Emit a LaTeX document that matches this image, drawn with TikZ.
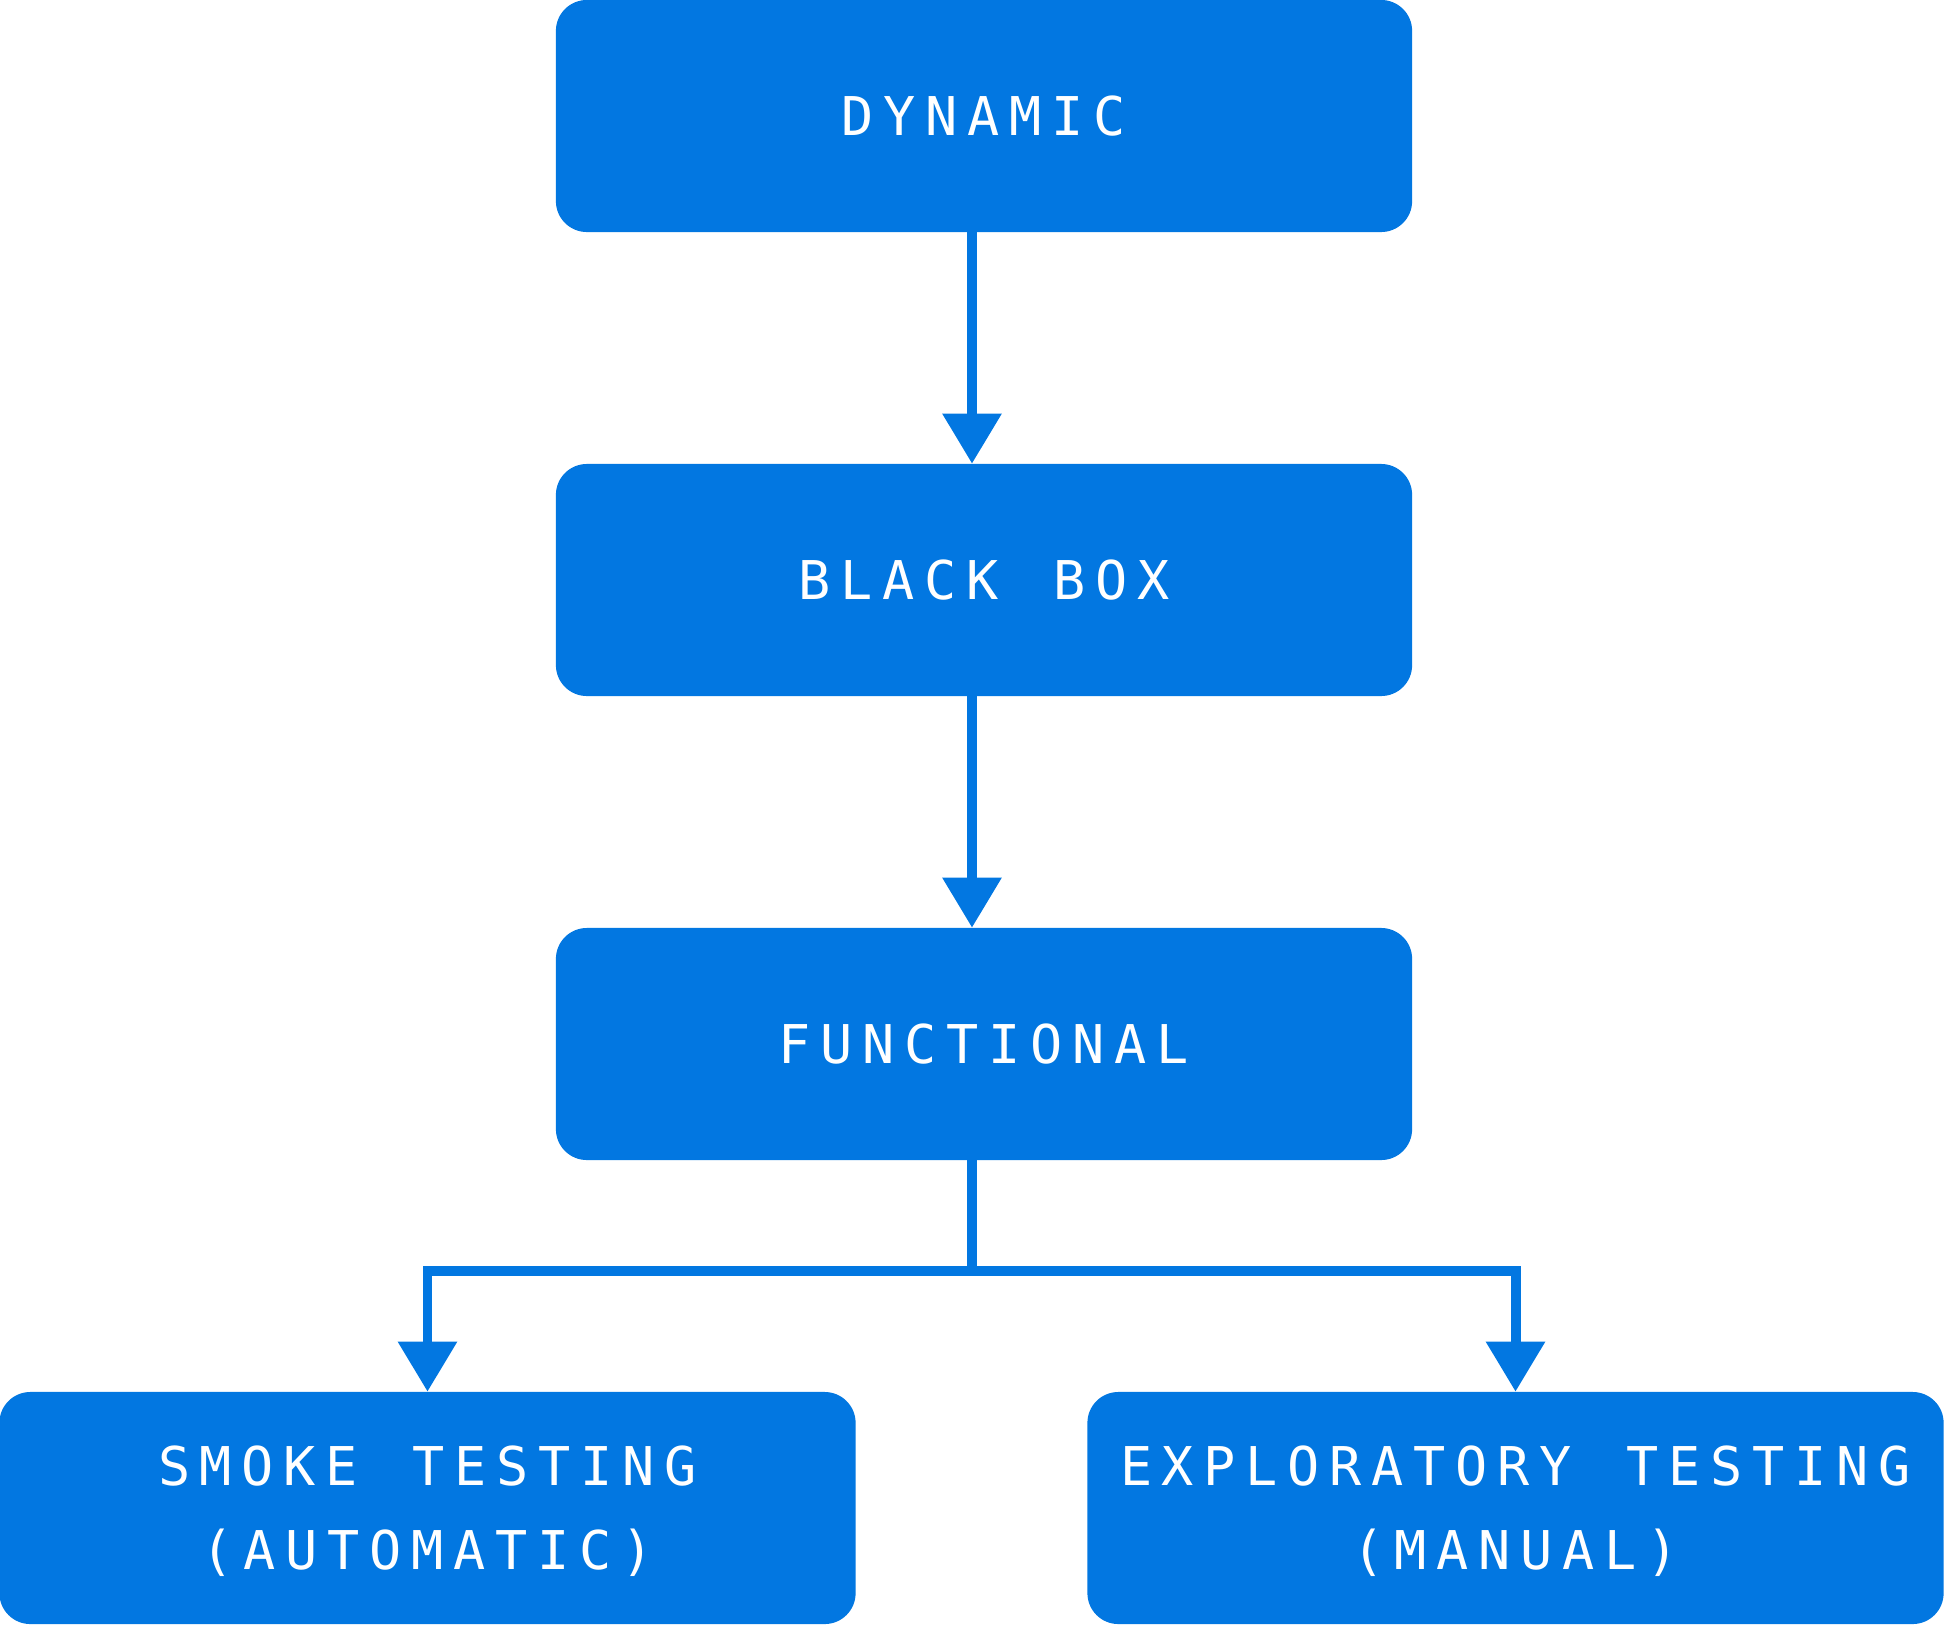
\documentclass[tikz,border=0pt]{standalone}
\usepackage{fontspec}
\usetikzlibrary{arrows.meta,positioning}
\newfontfamily\monolabel{DejaVu Sans Mono}[LetterSpace=18.4,WordSpace=1.3]
\definecolor{boxblue}{HTML}{0277E1}

\begin{document}
\begin{tikzpicture}[x=0.025cm, y=-0.025cm,
    box/.style={rectangle, rounded corners=22pt, fill=boxblue, text=white,
      minimum width=21.4cm, minimum height=5.8cm, inner sep=0pt, align=center,
      text depth=-0.15cm, font=\monolabel\fontsize{38}{59.75}\selectfont},
    link/.style={boxblue, line width=7.1pt},
    arr/.style={link, -{Triangle[length=1.25cm, width=1.42cm]}}]
    \useasboundingbox (0,0) rectangle (1944,1624);
    \node[box] (dyn) at (984,116) {DYNAMIC};
    \node[box] (bbox) at (984,580) {BLACK BOX};
    \node[box] (func) at (984,1044) {FUNCTIONAL};
    \node[box] (smoke) at (427.5,1508) {SMOKE TESTING\\(AUTOMATIC)};
    \node[box] (explo) at (1515.5,1508) {EXPLORATORY TESTING\\(MANUAL)};
    \coordinate (split) at (972,1271);
    \draw[arr] (dyn.south -| split) -- (bbox.north -| split);
    \draw[arr] (bbox.south -| split) -- (func.north -| split);
    \draw[arr] (func.south -| split) -- (split) -| (smoke.north);
    \draw[arr] (split) -| (explo.north);
\end{tikzpicture}
\end{document}
